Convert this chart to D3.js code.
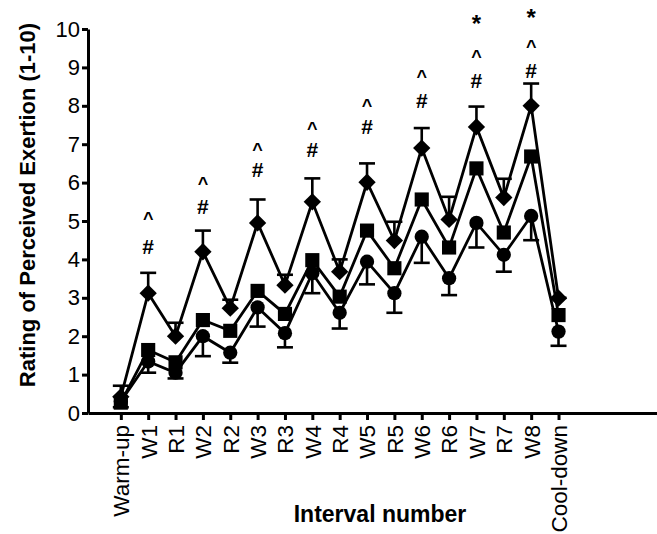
<!DOCTYPE html>
<html>
<head>
<meta charset="utf-8">
<script src="https://cdn.jsdelivr.net/npm/d3@7"></script>
<style>
  body { margin: 0; background: #fff; }
  svg { display: block; font-family: "Liberation Sans", Arial, sans-serif; }
  .axis path, .axis line { stroke: #000; stroke-width: 3; }
  .series { fill: none; stroke: #000; stroke-width: 2.8; }
  .err { stroke: #000; stroke-width: 2.6; fill: none; }
</style>
</head>
<body>
<div id="chart"></div>
<script>
const intervals = ['Warm-up', 'W1', 'R1', 'W2', 'R2', 'W3', 'R3', 'W4', 'R4',
                   'W5', 'R5', 'W6', 'R6', 'W7', 'R7', 'W8', 'Cool-down'];

// diamond series (highest), with upper error bar
const diamondMean = [0.42, 3.12, 2.0, 4.2, 2.73, 4.95, 3.33, 5.5, 3.68,
                     6.01, 4.49, 6.9, 5.04, 7.45, 5.61, 8.0, 2.99];
const diamondUpper = [0.71, 3.65, 2.35, 4.75, 2.95, 5.56, 3.6, 6.11, 4.0,
                      6.5, 4.98, 7.42, 5.63, 7.98, 6.1, 8.58, 3.0];

// square series (middle)
const squareMean = [0.27, 1.64, 1.32, 2.42, 2.14, 3.18, 2.58, 3.98, 3.03,
                    4.75, 3.77, 5.56, 4.31, 6.37, 4.7, 6.68, 2.55];

// circle series (lowest), with lower error bar
const circleMean = [0.3, 1.34, 1.05, 2.0, 1.57, 2.75, 2.08, 3.64, 2.61,
                    3.94, 3.12, 4.59, 3.51, 4.95, 4.12, 5.13, 2.12];
const circleLower = [0.15, 1.05, 0.9, 1.48, 1.31, 2.25, 1.71, 3.12, 2.2,
                     3.35, 2.61, 3.91, 3.07, 4.31, 3.68, 4.5, 1.75];

// significance marks: [interval index, symbol, centre value]
const marks = [
  [1, '#', 4.35], [1, '^', 5.16],
  [3, '#', 5.37], [3, '^', 6.07],
  [5, '#', 6.33], [5, '^', 6.95],
  [7, '#', 6.87], [7, '^', 7.5],
  [9, '#', 7.46], [9, '^', 8.1],
  [11, '#', 8.15], [11, '^', 8.85],
  [13, '#', 8.67], [13, '^', 9.38], [13, '*', 10.2],
  [15, '#', 8.93], [15, '^', 9.64], [15, '*', 10.36]
];

const yTicks = d3.range(0, 11);

const W = 657, H = 534;
const svg = d3.select('#chart').append('svg')
  .attr('width', W).attr('height', H);

const x = d3.scaleLinear().domain([-1.2, 19.6]).range([88, 657]);
const y = d3.scaleLinear().domain([0, 10]).range([413, 29]);

// axes
const gx = svg.append('g')
  .attr('class', 'axis')
  .attr('transform', `translate(0,${y(0)})`)
  .call(d3.axisBottom(x)
    .tickValues(d3.range(intervals.length))
    .tickFormat((i) => intervals[i])
    .tickSizeInner(7).tickSizeOuter(0));
gx.selectAll('text')
  .attr('transform', 'rotate(-90)')
  .attr('text-anchor', 'end')
  .attr('x', -12).attr('y', 0).attr('dy', '0.35em')
  .style('font-size', '22.5px').attr('fill', '#000');

const gy = svg.append('g')
  .attr('class', 'axis')
  .attr('transform', `translate(${x(-1.2)},0)`)
  .call(d3.axisLeft(y).tickValues(yTicks).tickSizeInner(6).tickSizeOuter(0).tickPadding(2));
gy.selectAll('text').style('font-size', '22px').attr('fill', '#000');

svg.append('text')
  .attr('transform', `translate(35,205) rotate(-90)`)
  .attr('text-anchor', 'middle')
  .style('font-size', '22px').style('font-weight', 'bold')
  .text('Rating of Perceived Exertion (1-10)');

svg.append('text')
  .attr('x', 380).attr('y', 522)
  .attr('text-anchor', 'middle')
  .style('font-size', '23px').style('font-weight', 'bold')
  .text('Interval number');

const plot = svg.append('g');
const line = d3.line().x((d, i) => x(i)).y((d) => y(d));

[diamondMean, squareMean, circleMean].forEach((s) => {
  plot.append('path').datum(s).attr('class', 'series').attr('d', line);
});

// error bars
const cap = 8;
const errorBars = (means, ends) => {
  const g = plot.append('g').attr('class', 'err');
  means.forEach((m, i) => {
    g.append('line').attr('x1', x(i)).attr('x2', x(i)).attr('y1', y(m)).attr('y2', y(ends[i]));
    g.append('line').attr('x1', x(i) - cap).attr('x2', x(i) + cap)
      .attr('y1', y(ends[i])).attr('y2', y(ends[i]));
  });
};
errorBars(diamondMean, diamondUpper);
errorBars(circleMean, circleLower);

// markers
plot.selectAll('.dia').data(diamondMean).join('path')
  .attr('d', d3.symbol(d3.symbolSquare, 150)())
  .attr('transform', (v, i) => `translate(${x(i)},${y(v)}) rotate(45)`);
plot.selectAll('.sq').data(squareMean).join('path')
  .attr('d', d3.symbol(d3.symbolSquare, 200)())
  .attr('transform', (v, i) => `translate(${x(i)},${y(v)})`);
plot.selectAll('.ci').data(circleMean).join('path')
  .attr('d', d3.symbol(d3.symbolCircle, 160)())
  .attr('transform', (v, i) => `translate(${x(i)},${y(v)})`);

// significance symbols, positioned by glyph centre
const glyphShift = { '#': 0.36, '^': 0.55, '*': 0.45 };
const glyphSize = { '#': 21, '^': 18, '*': 24 };
plot.selectAll('.mark').data(marks).join('text')
  .attr('x', (d) => x(d[0]))
  .attr('y', (d) => y(d[2]))
  .attr('dy', (d) => `${glyphShift[d[1]]}em`)
  .attr('text-anchor', 'middle')
  .style('font-size', (d) => `${glyphSize[d[1]]}px`)
  .style('font-weight', 'bold')
  .text((d) => d[1]);
</script>
</body>
</html>
